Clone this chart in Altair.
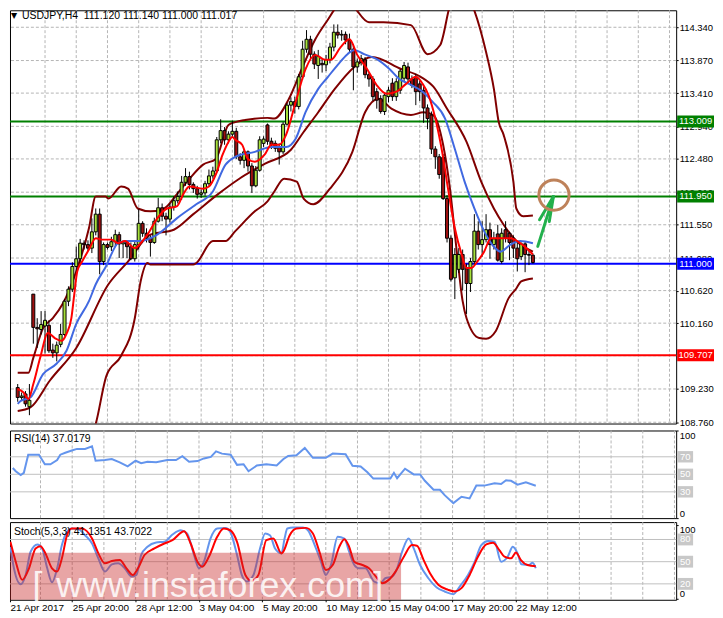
import altair as alt
import pandas as pd

# ---------------- candles (H4 bars, index 0 .. 132) ----------------
opens = [109.25, 109.11, 109.16, 108.98, 110.57, 110.10, 110.07, 110.12, 110.13, 109.78,
         109.74, 109.86, 110.00, 110.47, 110.64, 110.96, 111.07, 111.29, 111.27, 111.22,
         111.45, 111.70, 111.03, 111.27, 111.24, 111.31, 111.41, 111.28, 111.30, 111.24,
         111.07, 111.27, 111.57, 111.43, 111.36, 111.30, 111.60, 111.79, 111.67, 111.63,
         111.80, 111.89, 111.95, 112.15, 112.23, 112.12, 112.06, 111.98, 112.00, 112.13,
         112.24, 112.31, 112.75, 112.88, 112.75, 112.83, 112.87, 112.51, 112.46, 112.58,
         112.38, 112.10, 112.32, 112.70, 112.96, 112.73, 112.70, 112.65, 112.58, 112.97,
         113.24, 113.29, 113.22, 113.64, 114.03, 114.17, 113.96, 113.80, 113.83, 113.81,
         113.88, 114.06, 114.27, 114.23, 114.24, 114.16, 114.03, 113.78, 113.85, 113.88,
         113.67, 113.61, 113.43, 113.33, 113.15, 113.36, 113.55, 113.36, 113.45, 113.62,
         113.78, 113.61, 113.64, 113.54, 113.45, 113.20, 113.10, 112.62, 112.51, 112.50,
         111.92, 111.36, 110.80, 110.92, 111.13, 110.93, 110.72, 111.03, 111.46, 111.27,
         111.34, 111.48, 111.27, 111.42, 111.03, 111.48, 111.43, 111.36, 111.22, 111.10,
         111.28, 111.13, 111.12]
highs = [109.30, 109.18, 109.20, 109.30, 110.57, 110.23, 110.33, 110.33, 110.20, 109.87,
         109.90, 110.15, 110.50, 110.68, 111.02, 111.24, 111.35, 111.33, 111.33, 111.64,
         111.78, 111.78, 111.30, 111.30, 111.38, 111.48, 111.45, 111.33, 111.33, 111.30,
         111.32, 111.77, 111.60, 111.50, 111.40, 111.65, 111.93, 111.85, 111.72, 111.85,
         111.95, 112.02, 112.24, 112.35, 112.30, 112.15, 112.10, 112.05, 112.17, 112.33,
         112.37, 112.79, 113.04, 112.93, 112.87, 113.02, 112.92, 112.56, 112.62, 112.60,
         112.42, 112.38, 112.80, 112.80, 112.98, 112.78, 112.74, 112.70, 113.00, 113.27,
         113.35, 113.36, 113.68, 114.15, 114.30, 114.22, 114.00, 114.02, 113.90, 113.95,
         114.12, 114.38, 114.38, 114.30, 114.28, 114.25, 114.08, 113.90, 113.95, 113.92,
         113.70, 113.65, 113.48, 113.38, 113.42, 113.50, 113.62, 113.62, 113.75, 113.85,
         113.84, 113.66, 113.68, 113.58, 113.50, 113.25, 113.15, 112.66, 112.55, 112.55,
         111.97, 111.40, 111.22, 111.22, 111.20, 111.00, 111.08, 111.70, 111.60, 111.60,
         111.70, 111.58, 111.45, 111.55, 111.50, 111.60, 111.45, 111.40, 111.32, 111.30,
         111.32, 111.20, 111.14]
lows = [109.05, 109.06, 108.98, 108.86, 109.87, 109.81, 110.00, 109.73, 109.74, 109.67,
        109.62, 109.82, 109.98, 110.40, 110.60, 110.85, 111.00, 111.20, 111.18, 111.15,
        111.40, 110.85, 110.98, 111.20, 111.18, 111.24, 111.08, 111.08, 111.08, 111.05,
        111.03, 111.20, 111.38, 111.30, 111.10, 111.28, 111.58, 111.60, 111.40, 111.58,
        111.75, 111.85, 111.90, 112.10, 112.05, 112.00, 111.92, 111.93, 111.96, 112.10,
        112.20, 112.28, 112.70, 112.68, 112.70, 112.78, 112.48, 112.40, 112.35, 112.30,
        112.00, 112.08, 112.30, 112.65, 112.68, 112.62, 112.58, 112.40, 112.55, 112.95,
        113.15, 113.12, 113.18, 113.60, 113.98, 113.90, 113.75, 113.61, 113.70, 113.72,
        113.83, 114.00, 114.18, 114.15, 114.10, 113.98, 113.45, 113.70, 113.80, 113.62,
        113.50, 113.30, 113.19, 113.12, 113.10, 113.28, 113.30, 113.30, 113.40, 113.58,
        113.55, 113.48, 113.24, 113.30, 112.99, 112.90, 112.55, 112.34, 112.20, 111.90,
        111.30, 110.75, 110.50, 110.87, 110.62, 110.29, 110.60, 110.98, 111.20, 111.10,
        111.30, 111.07, 111.20, 111.03, 111.00, 111.30, 111.05, 111.08, 110.89, 111.05,
        110.88, 110.98, 111.00]
closes = [109.11, 109.13, 109.02, 109.07, 110.10, 110.08, 110.14, 110.20, 109.77, 109.74,
          109.85, 110.00, 110.47, 110.64, 110.96, 111.07, 111.29, 111.27, 111.22, 111.45,
          111.70, 111.03, 111.27, 111.23, 111.31, 111.41, 111.28, 111.30, 111.24, 111.07,
          111.27, 111.57, 111.43, 111.36, 111.30, 111.60, 111.79, 111.67, 111.63, 111.80,
          111.89, 111.95, 112.15, 112.23, 112.12, 112.06, 111.98, 112.00, 112.13, 112.24,
          112.31, 112.75, 112.88, 112.75, 112.83, 112.87, 112.51, 112.46, 112.58, 112.38,
          112.10, 112.32, 112.75, 112.76, 112.73, 112.68, 112.63, 112.58, 112.97, 113.24,
          113.29, 113.22, 113.64, 114.03, 114.17, 113.96, 113.82, 113.93, 113.81, 113.88,
          114.06, 114.27, 114.23, 114.24, 114.16, 114.03, 113.78, 113.85, 113.90, 113.67,
          113.61, 113.36, 113.31, 113.15, 113.38, 113.45, 113.36, 113.57, 113.72, 113.80,
          113.61, 113.52, 113.43, 113.43, 113.20, 113.05, 112.62, 112.51, 112.26, 111.92,
          111.36, 110.78, 111.13, 111.13, 110.92, 110.72, 111.03, 111.46, 111.27, 111.34,
          111.48, 111.27, 111.35, 111.05, 111.43, 111.36, 111.30, 111.22, 111.07, 111.28,
          111.13, 111.12, 111.017]

# ---------------- indicator lines (bar position, value) ----------------
red_x = [0, 1.5, 2.75, 4, 5.75, 7.75, 9.5, 11.25, 12.5, 13.75, 14.5, 15.25, 16.5, 18.25, 20,
         21.5, 24, 25.75, 27.5, 30, 31.5, 33.25, 35.75, 38.25, 40.75, 42.5, 44, 47.5, 49, 50.75,
         52.5, 54, 55, 55.75, 57.5, 59, 60.75, 63.25, 65, 67, 68.75, 71.25, 73.75, 76.25, 78.75,
         80.25, 82.75, 85, 87, 89.5, 92, 94.5, 97, 99.5, 102, 103.75, 105.25, 107, 108.75, 110.25,
         112, 113.75, 115, 116.25, 117.75, 119.5, 121.25, 123.75, 126.25, 128.75, 132]
red_y = [109.23, 109.18, 109.09, 109.30, 109.67, 110.02, 109.95, 109.91, 110.01, 110.23,
         110.57, 110.89, 111.03, 111.20, 111.36, 111.34, 111.34, 111.29, 111.32, 111.22,
         111.29, 111.41, 111.64, 111.78, 111.81, 111.99, 112.09, 112.06, 112.09, 112.26,
         112.54, 112.72, 112.79, 112.75, 112.68, 112.48, 112.44, 112.54, 112.68, 112.68,
         112.82, 113.29, 113.75, 113.95, 113.88, 113.88, 114.06, 114.17, 113.95, 113.75,
         113.52, 113.40, 113.43, 113.54, 113.64, 113.54, 113.38, 113.05, 112.58, 112.06,
         111.50, 111.13, 110.94, 110.94, 111.03, 111.17, 111.36, 111.36, 111.36, 111.29, 111.13]

blue_x = [0, 0.75, 3.25, 6.5, 10, 12.5, 15, 18.25, 20, 22.5, 25.75, 28.25, 31.5, 35.75, 40.75,
          45.75, 50, 53.25, 55.75, 60.75, 65, 68.75, 71.25, 73.75, 77, 79.5, 82, 84.5, 86.25,
          88.75, 92, 95.25, 97.75, 100.25, 103.75, 106.25, 109.5, 112, 114.5, 117, 119.5, 122,
          123.75, 126.25, 128.75, 132]
blue_y = [109.02, 109.06, 109.11, 109.44, 109.59, 109.77, 110.15, 110.47, 110.71, 110.95,
          111.29, 111.32, 111.32, 111.41, 111.64, 111.84, 112.02, 112.40, 112.51, 112.58,
          112.65, 112.65, 112.77, 113.14, 113.47, 113.64, 113.81, 113.96, 114.02, 113.96,
          113.89, 113.75, 113.61, 113.54, 113.43, 113.29, 113.05, 112.62, 112.16, 111.78,
          111.46, 111.24, 111.17, 111.27, 111.32, 111.29]

bb_mid_x = [0, 3.25, 8.25, 15, 23.25, 28.25, 34, 40, 45, 51.5, 56.5, 63.25, 70, 73.25, 77,
            81.25, 86.25, 90.75, 98.25, 103.25, 106.5, 110, 115, 118.75, 122, 124.5, 127.75, 132]
bb_mid_y = [108.92, 108.97, 109.35, 109.81, 110.71, 111.03, 111.41, 111.48, 111.70, 111.99,
            112.19, 112.41, 112.61, 112.86, 113.14, 113.47, 113.78, 113.92, 113.75, 113.64,
            113.50, 113.19, 112.72, 112.16, 111.78, 111.55, 111.32, 111.17]

bb_up_x = [0, 2.75, 4, 6.5, 9, 11.5, 15, 18.25, 20, 22.5, 23.25, 26.5, 28.25, 30.75, 34, 37.5,
           40.75, 44, 47.5, 50.75, 54, 55.75, 58.25, 64, 65.75, 69.5, 72.75, 76.25, 79.5, 82, 84,
           85.75, 90, 93.75, 100.75, 105, 108.25, 110.75, 113.5, 116.5, 120, 122, 123.25, 124.5,
           127, 127.75, 129.5, 132]
bb_up_y = [109.46, 109.46, 109.67, 110.09, 110.23, 110.43, 110.89, 111.50, 111.95, 111.95,
           111.92, 112.09, 112.06, 111.78, 111.74, 111.78, 111.98, 112.20, 112.40, 112.48,
           112.96, 113.00, 113.03, 113.06, 113.05, 113.33, 113.75, 114.17, 114.45, 114.65,
           114.72, 114.65, 114.41, 114.41, 114.37, 113.96, 114.09, 114.65, 114.95, 114.65,
           113.99, 113.47, 113.00, 112.82, 112.16, 111.78, 111.67, 111.68]

bb_lo_x = [0, 4, 8, 12, 16, 20, 22.75, 26.5, 30, 31.5, 33.25, 34, 45, 45.75, 50, 53.25, 55.75,
           60.75, 64, 65.75, 68.25, 71.5, 73.25, 75.75, 80, 85.75, 89, 92.5, 95.75, 100.75, 104,
           106.5, 109, 110.75, 112.5, 114, 115, 118.25, 120, 122.5, 125.75, 127.75, 129, 132]
bb_lo_y = [108.38, 108.25, 108.10, 108.00, 108.30, 108.74, 109.42, 109.70, 110.23, 110.75,
           111.01, 110.99, 110.99, 111.01, 111.32, 111.32, 111.46, 111.74, 111.88, 112.02,
           112.20, 112.16, 111.92, 111.84, 112.06, 112.58, 113.14, 113.33, 113.19, 113.10,
           113.14, 113.10, 112.68, 112.06, 111.17, 110.47, 110.23, 109.95, 109.94, 110.05,
           110.51, 110.65, 110.75, 110.79]

rsi_x = [0, 0.75, 2, 2.8, 3.9, 6.6, 8.1, 9.5, 11.2, 12, 13.25, 14.9, 16.2, 18.25, 20, 20.9,
         23.25, 25, 27, 29, 31, 32.4, 34, 36.2, 39, 41.2, 42.8, 44.5, 46.6, 48.25, 50, 51.3,
         52.8, 55, 56.6, 58.25, 59.5, 61.6, 64, 66.6, 68.25, 69.5, 71.6, 73.7, 75.75, 79, 80.75,
         84, 85.75, 87.8, 89.5, 91, 95.3, 96.2, 97, 99, 101.2, 102.8, 104, 106.2, 107.8, 109,
         111.2, 113.25, 115.3, 117, 119, 121.6, 123.25, 124.5, 125.75, 127.4, 129.5, 132]
rsi_v = [57.2, 53.5, 49.1, 51.7, 72.4, 72.4, 61.5, 61.5, 66.3, 72.4, 74.6, 77.2, 79.0, 79.0,
         81.9, 65.5, 66.3, 67.4, 63.7, 59.0, 65.5, 62.6, 64.4, 63.7, 66.3, 66.3, 70.6, 64.4,
         65.1, 68.1, 69.9, 76.1, 73.6, 72.4, 60.8, 61.5, 53.5, 60.0, 61.5, 60.0, 67.2, 71.0,
         71.8, 80.1, 68.8, 68.8, 73.6, 72.8, 59.7, 58.9, 52.4, 45.1, 45.1, 51.7, 45.5, 56.4,
         49.9, 49.9, 42.6, 32.4, 32.4, 26.2, 17.1, 24.4, 22.5, 37.1, 37.1, 39.7, 38.9, 43.3,
         42.6, 38.2, 40.8, 37.0]

stk_x = [-0.6, 0.3, 2, 3.25, 4.5, 6.2, 7.4, 8.7, 9.9, 11.2, 12.4, 13.7, 14.9, 16.6, 18.25, 20,
         21.6, 23.25, 25, 26.6, 28.25, 30, 31.2, 32.4, 34, 36.2, 38.25, 40.3, 42.4, 44, 45.75,
         47, 48.25, 49.9, 51.6, 53.7, 54.9, 56.6, 57.8, 59, 60.75, 62.4, 63.7, 64.9, 66.2, 67.8,
         68.6, 69.3, 70.75, 73.25, 74.5, 76.2, 77.8, 79, 80.3, 82, 83.7, 84.9, 86.2, 87.4, 89,
         91.2, 92.8, 94, 95.75, 97, 98.4, 99.9, 101.2, 102.8, 104.9, 107, 109, 111.2, 112.8,
         114.9, 116.6, 118.25, 120, 121.6, 123.25, 124.9, 126.2, 127.4, 128.4, 130.3, 131.2, 132]
stk_v = [70.1, 41.0, 19.5, 32.1, 63.4, 73.3, 67.9, 41.0, 22.2, 41.0, 72.4, 90.3, 94.8, 93.9,
         85.8, 74.6, 54.5, 36.6, 46.4, 47.8, 41.0, 29.8, 32.1, 59.0, 70.1, 76.0, 76.9, 86.7,
         92.5, 88.1, 59.0, 41.0, 50.0, 81.3, 94.8, 95.7, 90.3, 59.0, 32.1, 23.1, 32.1, 67.9,
         88.1, 85.8, 67.9, 61.2, 81.3, 94.8, 96.1, 96.1, 92.5, 72.4, 50.0, 32.1, 45.5, 83.6,
         81.3, 63.4, 45.5, 41.0, 41.0, 23.1, 20.9, 27.6, 29.8, 41.0, 65.7, 81.3, 67.9, 45.5,
         27.6, 15.1, 9.7, 6.1, 16.4, 32.1, 50.0, 72.4, 77.8, 76.9, 50.0, 56.7, 70.1, 61.2,
         46.4, 45.5, 48.7, 41.1]
std_x = [-0.6, 0.75, 2.4, 4.1, 5.75, 7, 8.25, 9.9, 11.2, 12.4, 13.7, 14.9, 17.4, 20, 21.6,
         23.25, 25, 27, 28.7, 30.3, 31.6, 33.25, 35.75, 38.25, 40.3, 43.25, 44.9, 46.6, 47.8,
         49.5, 51.6, 53.25, 54.9, 56.6, 58.7, 60.3, 62, 64, 65.75, 67.8, 68.25, 69.9, 71.6, 74,
         75.75, 77.4, 79, 80.75, 82.4, 83.7, 84.9, 86.2, 88.25, 89.9, 92, 93.25, 94.9, 96.6,
         98.7, 100.75, 102, 103.7, 105.3, 107.4, 109.9, 111.6, 113.25, 115.3, 117.4, 119.5,
         121.2, 122.8, 124.1, 125.75, 127, 128.25, 129.9, 132]
std_v = [76.9, 50.0, 25.4, 41.0, 67.9, 71.0, 61.2, 41.0, 36.6, 54.5, 85.8, 94.8, 94.8, 81.3,
         61.2, 47.8, 50.9, 52.2, 41.0, 32.1, 41.0, 59.0, 67.9, 74.6, 79.1, 91.2, 74.6, 50.0,
         43.3, 56.7, 83.6, 94.8, 92.5, 76.9, 32.1, 24.0, 32.1, 79.1, 81.3, 61.2, 63.4, 85.8,
         94.8, 95.7, 88.1, 63.4, 38.8, 45.5, 70.1, 80.4, 70.1, 50.0, 45.5, 41.0, 27.6, 20.9,
         25.4, 36.6, 56.7, 72.4, 71.5, 52.2, 34.3, 18.7, 11.9, 9.7, 14.2, 32.1, 56.7, 73.3,
         75.5, 65.7, 56.7, 54.5, 62.5, 52.2, 45.5, 43.7]

# ---------------- axes / levels / labels ----------------
price_ticks = [114.34, 113.87, 113.41, 112.94, 112.48, 112.01, 111.55, 111.08, 110.62,
               110.16, 109.23, 108.76]
level_values = [113.009, 111.950, 111.000, 109.707]
level_labels = ["113.009", "111.950", "111.000", "109.707"]
level_colors = ["#008000", "#008000", "#0000ff", "#ff0000"]
rsi_levels = [70, 50, 30]
stoch_levels = [80, 50, 20]
grid_bars = [7, 15, 23, 31, 39, 47, 55, 63, 71, 79, 87, 95, 103, 111, 119, 127, 135, 143,
             151, 159, 167]
date_pos = [-0.7, 15, 31, 47, 63, 79, 95, 111, 127]
date_text = ["21 Apr 2017", "25 Apr 20:00", "28 Apr 12:00", "3 May 04:00", "5 May 20:00",
             "10 May 12:00", "15 May 04:00", "17 May 20:00", "22 May 12:00"]
header = "USDJPY,H4\u00a0\u00a0111.120 111.140 111.000 111.017"
rsi_title = "RSI(14) 37.0179"
stoch_title = "Stoch(5,3,3) 41.1351 43.7022"
circle_pos = (137.4, 111.97)
arrow_x = [133.25, 133.7, 136.2]
arrow_y = [111.245, 111.62, 111.597]
arrow_tip = (137.25, 111.948)

# ---------------- styling ----------------
FONT = "Liberation Sans"
W = 669
H1, H2, H3 = 415, 88, 78
XD = [-0.7, 167.43]
YD = [108.742, 114.58]
RD = [0, 100]
SD = [-1.5, 103.5]
BULL, BEAR = "#a6e03a", "#a01010"
GRID = "#b4b4b4"

xs = alt.Scale(domain=XD, nice=False, zero=False)
ys = alt.Scale(domain=YD, nice=False, zero=False)
rs = alt.Scale(domain=RD, nice=False, zero=False)
ss = alt.Scale(domain=SD, nice=False, zero=False)


def right_axis(values, fmt, flush=False):
    kw = dict(orient="right", values=values, format=fmt, title=None, grid=False,
              domain=False, tickSize=2, tickColor="black", labelColor="black",
              labelFont=FONT, labelFontSize=9.5, labelPadding=1, labelOverlap=False)
    if flush:
        kw["labelFlush"] = 4
    return alt.Axis(**kw)


yax = right_axis(price_ticks, ".3f")
rax = right_axis([0, 100], "d", flush=True)
sax = right_axis([0, 100], "d", flush=True)

label_expr = " : ".join(f"datum.value == {p} ? '{t}'" for p, t in zip(date_pos, date_text)) + " : ''"
xax = alt.Axis(values=date_pos, labelExpr=label_expr, title=None, grid=False, domain=False,
               tickSize=2, tickColor="black", labelAlign="left", labelBaseline="top",
               labelFont=FONT, labelFontSize=10, labelColor="black", labelPadding=1,
               labelOverlap=False, labelBound=False, labelFlush=False)


def X(field, axis=None):
    return alt.X(field, scale=xs, axis=axis, title=None)


def vgrid(xaxis=None):
    return alt.Chart(pd.DataFrame({"g": grid_bars})).mark_rule(
        color=GRID, strokeDash=[3, 2], strokeWidth=1).encode(x=X("g:Q", xaxis))


def line(xl, yl, color, scale, yaxis, xaxis=None, width=2, interp="monotone"):
    df = pd.DataFrame({"x": xl, "v": yl})
    return alt.Chart(df).mark_line(color=color, strokeWidth=width, interpolate=interp,
                                   clip=True).encode(
        x=X("x:Q", xaxis), y=alt.Y("v:Q", scale=scale, axis=yaxis, title=None))


# ---------------- main price panel ----------------
cdf = pd.DataFrame({"i": list(range(len(opens))), "o": opens, "h": highs, "l": lows, "c": closes})
cdf["top"] = cdf[["o", "c"]].max(axis=1)
cdf["bot"] = cdf[["o", "c"]].min(axis=1)
cdf["dir"] = ["bull" if c >= o else "bear" for o, c in zip(opens, closes)]

hgrid = alt.Chart(pd.DataFrame({"v": price_ticks + [109.70]})).mark_rule(
    color=GRID, strokeDash=[3, 2], strokeWidth=1).encode(
    y=alt.Y("v:Q", scale=ys, axis=yax, title=None))

wicks = alt.Chart(cdf).mark_rule(color="black", strokeWidth=1).encode(
    x=X("i:Q"), y=alt.Y("l:Q", scale=ys, axis=yax, title=None), y2="h:Q")
bodies = alt.Chart(cdf).mark_bar(size=3, stroke="black", strokeWidth=1).encode(
    x=X("i:Q"), y=alt.Y("bot:Q", scale=ys, axis=yax, title=None), y2="top:Q",
    color=alt.Color("dir:N", scale=alt.Scale(domain=["bull", "bear"], range=[BULL, BEAR]),
                    legend=None))

ldf = pd.DataFrame({"v": level_values, "lab": level_labels, "col": level_colors})
ldf["t"] = ldf["v"] + 0.085
ldf["b"] = ldf["v"] - 0.085
levels = alt.Chart(ldf).mark_rule(strokeWidth=2).encode(
    y=alt.Y("v:Q", scale=ys, axis=yax, title=None), color=alt.Color("col:N", scale=None))
lboxes = alt.Chart(ldf).mark_rect().encode(
    x=alt.value(W + 1), x2=alt.value(W + 38),
    y=alt.Y("t:Q", scale=ys, axis=yax, title=None), y2="b:Q",
    color=alt.Color("col:N", scale=None))
ltext = alt.Chart(ldf).mark_text(color="white", font=FONT, fontSize=9.5, align="center",
                                 baseline="middle").encode(
    x=alt.value(W + 19.5), y=alt.Y("v:Q", scale=ys, axis=yax, title=None), text="lab:N")

circle = alt.Chart(pd.DataFrame({"x": [circle_pos[0]], "v": [circle_pos[1]]})).mark_point(
    shape="circle", size=920, filled=False, stroke="#be825a", strokeWidth=3, opacity=1).encode(
    x=X("x:Q"), y=alt.Y("v:Q", scale=ys, axis=yax, title=None))
adf = pd.DataFrame({"x": arrow_x, "y": arrow_y,
                    "x2": [arrow_tip[0]] * 3, "y2": [arrow_tip[1]] * 3})
arrow = alt.Chart(adf).mark_rule(color="#22b04c", strokeWidth=3, strokeCap="round").encode(
    x=X("x:Q"), x2="x2:Q", y=alt.Y("y:Q", scale=ys, axis=yax, title=None), y2="y2:Q")

tri = alt.Chart(pd.DataFrame({"t": ["\u25bc"]})).mark_text(
    font="DejaVu Sans", fontSize=8, align="left", baseline="middle", color="black").encode(
    x=alt.value(1), y=alt.value(6), text="t:N")
head = alt.Chart(pd.DataFrame({"t": [header]})).mark_text(
    font=FONT, fontSize=10.5, align="left", baseline="middle", color="black").encode(
    x=alt.value(12), y=alt.value(6), text="t:N")

main = alt.layer(
    hgrid, vgrid(),
    levels,
    line(bb_up_x, bb_up_y, "#800000", ys, yax),
    line(bb_lo_x, bb_lo_y, "#800000", ys, yax),
    line(bb_mid_x, bb_mid_y, "#800000", ys, yax),
    wicks, bodies,
    line(blue_x, blue_y, "#4169e1", ys, yax),
    line(red_x, red_y, "#ff0000", ys, yax),
    arrow, circle, lboxes, ltext, tri, head,
).properties(width=W, height=H1)


# ---------------- RSI panel ----------------
def level_layers(vals, scale, yaxis, half, xaxis=None):
    df = pd.DataFrame({"v": vals, "lab": [str(v) for v in vals]})
    df["t"] = df["v"] + half
    df["b"] = df["v"] - half
    rules = alt.Chart(df).mark_rule(color="#c0c0c0", strokeWidth=1).encode(
        y=alt.Y("v:Q", scale=scale, axis=yaxis, title=None))
    boxes = alt.Chart(df).mark_rect(color="#c8c8c8").encode(
        x=alt.value(W + 1), x2=alt.value(W + 17),
        y=alt.Y("t:Q", scale=scale, axis=yaxis, title=None), y2="b:Q")
    txt = alt.Chart(df).mark_text(color="white", font=FONT, fontSize=9.5, align="center",
                                  baseline="middle").encode(
        x=alt.value(W + 9), y=alt.Y("v:Q", scale=scale, axis=yaxis, title=None), text="lab:N")
    return rules, boxes, txt


r_rules, r_boxes, r_txt = level_layers(rsi_levels, rs, rax, 6.5)
r_title = alt.Chart(pd.DataFrame({"t": [rsi_title]})).mark_text(
    font=FONT, fontSize=10.5, align="left", baseline="middle", color="black").encode(
    x=alt.value(4), y=alt.value(9), text="t:N")

rsi = alt.layer(
    vgrid(), r_rules,
    line(rsi_x, rsi_v, "#6495ed", rs, rax, interp="linear"),
    r_boxes, r_txt, r_title,
).properties(width=W, height=H2)

# ---------------- Stochastic panel ----------------
s_rules, s_boxes, s_txt = level_layers(stoch_levels, ss, sax, 8)
s_title = alt.Chart(pd.DataFrame({"t": [stoch_title]})).mark_text(
    font=FONT, fontSize=10.5, align="left", baseline="middle", color="black").encode(
    x=alt.value(4), y=alt.value(10), text="t:N")
wm_rect = alt.Chart(pd.DataFrame({"x": [-0.7], "x2": [98.0], "y": [-1.5], "y2": [62.0]})).mark_rect(
    color="#c82828", opacity=0.42).encode(
    x=X("x:Q", xax), x2="x2:Q", y=alt.Y("y:Q", scale=ss, axis=sax, title=None), y2="y2:Q")
wm_text = alt.Chart(pd.DataFrame({"x": [5.0, 11.0, 91.0],
                                  "t": ["[", "www.instaforex.com", "]"]})).mark_text(
    font=FONT, fontSize=36, align="left", baseline="alphabetic", color="white",
    opacity=0.85).encode(
    x=X("x:Q", xax), y=alt.value(H3 - 3), text="t:N")

stoch = alt.layer(
    vgrid(xax), s_rules,
    line(stk_x, stk_v, "#6495ed", ss, sax, xax),
    line(std_x, std_v, "#ff0000", ss, sax, xax),
    wm_rect, wm_text,
    s_boxes, s_txt, s_title,
).properties(width=W, height=H3)

chart = alt.vconcat(main, rsi, stoch, spacing=2).properties(
    background="white",
    padding=0,
).configure_view(stroke="black", strokeWidth=1)

chart.save("out.html", embed_options={"renderer": "svg", "actions": False})
